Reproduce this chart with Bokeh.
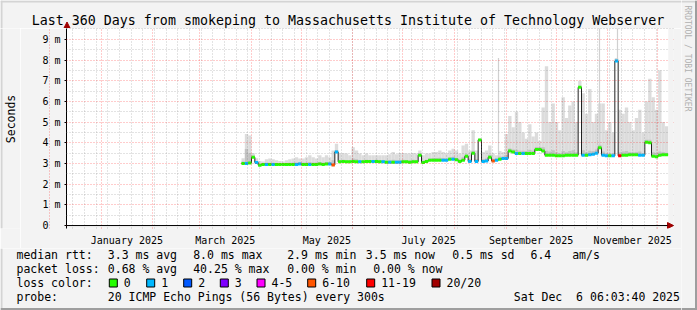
from datetime import datetime
from bokeh.plotting import figure
from bokeh.layouts import column, row
from bokeh.models import Range1d, FixedTicker, Arrow, NormalHead, BoxAnnotation, Span
from bokeh.core.properties import value
from bokeh.embed import file_html
from bokeh.resources import INLINE

# ---------------- data ----------------
START = datetime(2024, 12, 11, 6, 3, 40)
END = datetime(2025, 12, 6, 6, 3, 40)

first_bin_day = 105      # days after START of the first 2-day bin
bin_days = 2

median_ms = [
    3.0, 3.0, 3.02, 3.3, 3.05, 2.92, 2.95, 2.95, 2.95, 2.95,
    2.95, 2.95, 2.95, 2.95, 2.95, 2.95, 2.95, 2.97, 2.95, 2.95,
    2.95, 2.95, 2.95, 2.97, 2.95, 2.97, 2.97, 2.93, 3.56, 3.08,
    3.1, 3.08, 3.08, 3.1, 3.08, 3.08, 3.08, 3.1, 3.1, 3.1,
    3.1, 3.08, 3.08, 3.06, 3.06, 3.06, 3.06, 3.06, 3.08, 3.08,
    3.06, 3.08, 3.08, 3.4, 3.05, 3.1, 3.16, 3.16, 3.16, 3.16,
    3.16, 3.16, 3.2, 3.2, 3.18, 3.1, 3.16, 3.35, 3.1, 3.5,
    3.1, 4.14, 3.1, 3.12, 3.3, 3.12, 3.15, 3.2, 3.24, 3.24,
    3.6, 3.55, 3.48, 3.48, 3.48, 3.48, 3.48, 3.48, 3.68, 3.68,
    3.6, 3.4, 3.4, 3.4, 3.37, 3.37, 3.37, 3.4, 3.4, 3.4,
    3.4, 6.68, 3.4, 3.4, 3.42, 3.45, 3.5, 3.76, 3.4, 3.37,
    3.37, 3.37, 7.95, 3.37, 3.4, 3.4, 3.42, 3.42, 3.42, 3.4,
    3.4, 4.03, 4.0, 3.35, 3.33, 3.4, 3.42, 3.42,
]

smoke_max_ms = [
    3.25, 4.43, 4.35, 3.5, 3.25, 3.12, 3.1, 3.2, 3.24, 3.2,
    3.15, 3.12, 3.1, 3.15, 3.2, 3.24, 3.3, 3.24, 3.24, 3.3,
    3.4, 3.3, 3.24, 3.4, 3.3, 3.4, 3.3, 3.63, 3.95, 3.48,
    3.5, 3.48, 3.4, 3.79, 3.63, 3.48, 3.4, 3.48, 3.4, 3.4,
    3.4, 3.4, 3.4, 3.4, 3.44, 3.56, 3.44, 3.51, 3.51, 3.48,
    3.48, 3.51, 3.48, 3.63, 3.4, 3.48, 3.48, 3.56, 3.56, 3.63,
    3.56, 3.48, 3.63, 3.71, 3.63, 3.48, 3.87, 3.95, 3.63, 4.6,
    3.63, 4.2, 3.56, 3.63, 3.87, 3.48, 3.4, 3.6, 3.56, 4.43,
    5.3, 4.75, 5.5, 5.0, 4.5, 4.2, 4.9, 4.3, 4.5, 4.1,
    5.7, 7.7, 5.0, 5.9, 5.0, 4.6, 6.2, 5.2, 5.8, 6.0,
    5.0, 7.0, 6.4, 5.4, 6.6, 5.0, 5.4, 5.9, 5.9, 4.6,
    5.0, 4.5, 8.1, 5.6, 5.4, 5.7, 5.0, 4.6, 5.2, 5.6,
    4.5, 6.0, 7.1, 6.2, 5.6, 7.5, 5.0, 4.8,
]

smoke_mid_ms = [
    3.1, 3.7, 3.5, 3.38, 3.1, 3.0, 3.01, 3.03, 3.03, 3.03,
    3.02, 3.02, 3.01, 3.02, 3.04, 3.05, 3.05, 3.06, 3.05, 3.05,
    3.07, 3.05, 3.05, 3.07, 3.05, 3.07, 3.07, 3.15, 3.65, 3.16,
    3.18, 3.16, 3.16, 3.24, 3.2, 3.16, 3.16, 3.18, 3.17, 3.17,
    3.18, 3.16, 3.16, 3.14, 3.16, 3.18, 3.16, 3.17, 3.18, 3.16,
    3.16, 3.18, 3.16, 3.48, 3.14, 3.18, 3.24, 3.26, 3.26, 3.28,
    3.26, 3.24, 3.3, 3.32, 3.28, 3.2, 3.3, 3.45, 3.22, 3.62,
    3.22, 4.2, 3.22, 3.24, 3.42, 3.22, 3.24, 3.34, 3.34, 3.42,
    3.72, 3.68, 3.66, 3.62, 3.62, 3.6, 3.66, 3.62, 3.8, 3.8,
    3.78, 3.62, 3.58, 3.64, 3.54, 3.5, 3.6, 3.54, 3.6, 3.64,
    3.54, 6.75, 3.64, 3.54, 3.62, 3.6, 3.68, 3.9, 3.58, 3.5,
    3.5, 3.5, 8.05, 3.54, 3.58, 3.6, 3.56, 3.54, 3.56, 3.58,
    3.5, 4.15, 4.15, 3.54, 3.5, 3.58, 3.56, 3.52,
]

# thin single-pixel smoke spikes
spike_day = [259.2, 319.8, 330.6]
spike_base_ms = [3.2, 3.76, 7.95]
spike_top_ms = [8.1, 9.6, 9.6]

# loss class index into loss_colors (0 = no loss, 1 = 1 lost, ...)
loss_class = [
    0, 1, 0, 0, 1, 0, 0, 1, 0, 1,
    0, 0, 0, 0, 0, 0, 1, 1, 0, 0,
    1, 0, 0, 0, 0, 0, 1, 5, 1, 0,
    0, 0, 0, 0, 0, 1, 0, 0, 0, 1,
    0, 0, 1, 0, 1, 0, 1, 1, 0, 0,
    0, 0, 0, 0, 0, 0, 0, 0, 0, 0,
    1, 1, 0, 1, 0, 0, 0, 0, 1, 0,
    1, 0, 1, 1, 0, 5, 1, 0, 1, 1,
    0, 0, 1, 0, 1, 0, 0, 0, 0, 0,
    0, 0, 0, 0, 0, 0, 0, 0, 0, 0,
    0, 0, 1, 0, 1, 1, 1, 0, 1, 1,
    0, 1, 1, 6, 0, 0, 0, 0, 0, 1,
    1, 0, 0, 0, 0, 0, 0, 0,
]

loss_colors = ["#26ff00", "#00b8ff", "#0059ff", "#7e00ff",
               "#ff00ff", "#ff5500", "#ff0000", "#a10000"]
loss_labels = ["0", "1", "2", "3", "4-5", "6-10", "11-19", "20/20"]

y_major = [0, 1, 2, 3, 4, 5, 6, 7, 8, 9]
y_minor = [0.5, 1.5, 2.5, 3.5, 4.5, 5.5, 6.5, 7.5, 8.5, 9.5]
y_labels = {0: "0\u00a0\u00a0", 1: "1 m", 2: "2 m", 3: "3 m", 4: "4 m",
            5: "5 m", 6: "6 m", 7: "7 m", 8: "8 m", 9: "9 m"}
x_label_months = ["January 2025", "March 2025", "May 2025", "July 2025",
                  "September 2025", "November 2025"]

title_text = "Last 360 Days from smokeping to Massachusetts Institute of Technology Webserver"
legend_rows = [
    [("median rtt:", 16), ("3.3 ms avg", 107.3), ("8.0 ms max", 192.7),
     ("2.9 ms min", 286.7), ("3.5 ms now", 365.3), ("0.5 ms sd", 451.7),
     ("6.4", 530), ("am/s", 571.7)],
    [("packet loss:", 16), ("0.68 % avg", 107.3), ("40.25 % max", 192.7),
     ("0.00 % min", 286.7), ("0.00 % now", 372.7)],
    [("loss color:", 16)],
    [("probe:", 16), ("20 ICMP Echo Pings (56 Bytes) every 300s", 107.3),
     ("Sat Dec\u00a0 6 06:03:40 2025", 513.3)],
]

# ---------------- style / geometry ----------------
BG = "#f3f3f3"
LIGHT = "#d4d4d4"
DARK = "#9e9e9e"
ARROW = "#a00000"
MONO = "DejaVu Sans Mono"
W, H = 697, 310
RIGHT_X = 681      # where the right-hand strip column starts
TOP_H = 28         # title strip height
P_BOTTOM = 248     # bottom of main plot figure
LEFT_W = 20
TEXT_SHIFT = -4    # svg alphabetic baseline correction


def day(dt):
    return (dt - START).total_seconds() / 86400.0


TOTAL_DAYS = day(END)
PX_PER_DAY = 600.0 / TOTAL_DAYS
X_END = TOTAL_DAYS * 607.0 / 600.0   # frame extends to arrow tip
Y_TOP = 200 / 21.0
Y_BOT = -3 / 21.0                    # frame extends below axis for arrow head


def px_day(px):
    return (px - 66) / PX_PER_DAY


def pixfig(w, h):
    f = figure(width=w, height=h, x_range=Range1d(0, w), y_range=Range1d(h, 0),
               min_border=0, toolbar_location=None, output_backend="svg",
               x_axis_type=None, y_axis_type=None, title=None)
    f.outline_line_color = None
    f.background_fill_color = BG
    f.border_fill_color = BG
    return f


def txt(f, x, y, s, size="11.5px", align="left", baseline="alphabetic",
        angle=0.0, color="black"):
    f.text(x=[x], y=[y], text=[s], angle=angle, text_align=align,
           text_baseline=baseline, text_font=value(MONO),
           text_font_size=value(size), text_color=color)


# month / week positions
month_starts = [datetime(2024, 12, 1)] + [datetime(2025, k, 1) for k in range(1, 13)] \
    + [datetime(2026, 1, 1)]
month_days = [day(d) for d in month_starts]
week_days = []
w = day(datetime(2024, 12, 15))
while w < TOTAL_DAYS:
    week_days.append(w)
    w += 7

label_days = {}
for i, name in enumerate(x_label_months):
    mi = 1 + 2 * i
    label_days[(month_days[mi] + month_days[mi + 1]) / 2] = name

# ---------------- main plot ----------------
p = figure(width=RIGHT_X - LEFT_W, height=P_BOTTOM - TOP_H,
           output_backend="svg", toolbar_location=None, title=None,
           x_range=Range1d(0, X_END), y_range=Range1d(Y_BOT, Y_TOP),
           min_border_left=66 - LEFT_W, min_border_right=RIGHT_X - 673,
           min_border_top=0, min_border_bottom=P_BOTTOM - 231)
p.border_fill_color = BG
p.background_fill_color = BG
p.outline_line_color = None

p.xaxis.ticker = FixedTicker(ticks=list(label_days.keys()))
p.xaxis.major_label_overrides = dict(label_days)
p.xaxis.major_tick_line_color = None
p.xaxis.minor_tick_line_color = None
p.xaxis.major_label_standoff = 0
p.xaxis.axis_line_color = None
p.xaxis.major_label_text_font = MONO
p.xaxis.major_label_text_font_size = "10px"
p.xaxis.major_label_text_color = "black"

p.yaxis.ticker = FixedTicker(ticks=y_major, minor_ticks=y_minor)
p.yaxis.major_label_overrides = y_labels
p.yaxis.major_tick_out = 2
p.yaxis.major_tick_in = 0
p.yaxis.minor_tick_out = 0
p.yaxis.minor_tick_in = 0
p.yaxis.major_label_standoff = 4
p.yaxis.axis_line_color = "black"
p.yaxis.major_label_text_font = MONO
p.yaxis.major_label_text_font_size = "10px"
p.yaxis.major_label_text_color = "black"

p.xgrid.ticker = FixedTicker(ticks=month_days, minor_ticks=week_days)
for g in (p.xgrid, p.ygrid):
    g.level = "guide"
    g.grid_line_color = "#ff0000"
    g.grid_line_alpha = 0.4
    g.grid_line_dash = "1 2"
    g.minor_grid_line_color = "#808080"
    g.minor_grid_line_alpha = 0.45
    g.minor_grid_line_dash = "1 2"

# white graph canvas (rrdtool CANVAS), frame itself uses the page background
p.quad(left=[0], right=[px_day(668)], bottom=[0], top=[Y_TOP],
       fill_color="white", line_color=None, level="underlay")

left = [first_bin_day + bin_days * i for i in range(len(median_ms))]
right = [x + bin_days for x in left]
colors = [loss_colors[c] for c in loss_class]

p.quad(left=left, right=right, bottom=median_ms, top=smoke_max_ms,
       fill_color="#dcdcdc", line_color=None)
p.segment(x0=spike_day, x1=spike_day, y0=spike_base_ms, y1=spike_top_ms,
          line_color="#d0d0d0", line_width=1.2)
p.quad(left=left, right=right, bottom=median_ms, top=smoke_mid_ms,
       fill_color="#c2c2c2", line_color=None)

step_x = left + [right[-1]]
step_y = median_ms + [median_ms[-1]]
p.step(x=step_x, y=step_y, mode="after", line_color="#202020", line_width=1)
p.segment(x0=left, x1=right, y0=median_ms, y1=median_ms,
          line_color=colors, line_width=3)

# hide horizontal grid beyond the graph area (frame widened for the arrow)
p.add_layout(BoxAnnotation(left=px_day(668), right=X_END, bottom=0.02, top=Y_TOP,
                           fill_color=BG, fill_alpha=1, line_color=None,
                           level="annotation"))
p.add_layout(Span(location=0, dimension="width", line_color="black", line_width=1))
p.add_layout(Arrow(x_start=px_day(664), y_start=0, x_end=X_END, y_end=0,
                   line_color="black", line_width=1,
                   end=NormalHead(size=6, fill_color=ARROW, line_color=ARROW)))

# ---------------- title strip ----------------
T = pixfig(RIGHT_X, TOP_H)
T.quad(left=[0], right=[RIGHT_X], top=[0], bottom=[2], fill_color=LIGHT, line_color=None)
T.quad(left=[0], right=[2], top=[0], bottom=[TOP_H], fill_color=LIGHT, line_color=None)
txt(T, 347.5, 24.3 + TEXT_SHIFT, title_text, size="13.3px", align="center")
T.segment(x0=[66.5], x1=[66.5], y0=[24], y1=[TOP_H], line_color="black", line_width=1)
T.patch(x=[63.5, 69.5, 66.5], y=[27.5, 27.5, 21.5], fill_color=ARROW, line_color=ARROW)

# ---------------- left strip ----------------
L = pixfig(LEFT_W, P_BOTTOM - TOP_H)
L.quad(left=[0], right=[2], top=[0], bottom=[P_BOTTOM - TOP_H], fill_color=LIGHT,
       line_color=None)
txt(L, 10.5, 127.5 - TOP_H, "Seconds", align="center", baseline="middle",
    angle=1.5707963)

# ---------------- legend strip ----------------
LEG_H = H - P_BOTTOM
B = pixfig(RIGHT_X, LEG_H)
B.quad(left=[0], right=[2], top=[0], bottom=[LEG_H], fill_color=LIGHT, line_color=None)
B.quad(left=[0], right=[RIGHT_X], top=[LEG_H - 2.5], bottom=[LEG_H], fill_color=DARK,
       line_color=None)
baselines = [258, 272, 286, 300]
for base, items in zip(baselines, legend_rows):
    for s, x in items:
        txt(B, x, base - P_BOTTOM + TEXT_SHIFT, s)
box_x = [108.3, 145.7, 182.7, 219.3, 256, 306.7, 365.7, 431]
B.quad(left=[bx + 0.5 for bx in box_x], right=[bx + 8.5 for bx in box_x],
       top=[278.5 - P_BOTTOM] * len(box_x), bottom=[286.5 - P_BOTTOM] * len(box_x),
       fill_color=loss_colors, line_color="black", line_width=1)
for bx, lab in zip(box_x, loss_labels):
    txt(B, bx + 15, 286 - P_BOTTOM + TEXT_SHIFT, lab)

# ---------------- right strip ----------------
RW = W - RIGHT_X
R = pixfig(RW, H)
R.quad(left=[0], right=[RW], top=[0], bottom=[2], fill_color=LIGHT, line_color=None)
R.quad(left=[RW - 2.5], right=[RW], top=[0], bottom=[H], fill_color=DARK, line_color=None)
R.quad(left=[0], right=[RW], top=[H - 2.5], bottom=[H], fill_color=DARK, line_color=None)
txt(R, 686.5 - RIGHT_X, 58, "RRDTOOL / TOBI OETIKER", size="8px", align="center",
    baseline="middle", angle=-1.5707963, color="#b0b0b0")

layout = row(column(T, row(L, p), B), R)
open("out.html", "w").write(file_html(layout, INLINE))
